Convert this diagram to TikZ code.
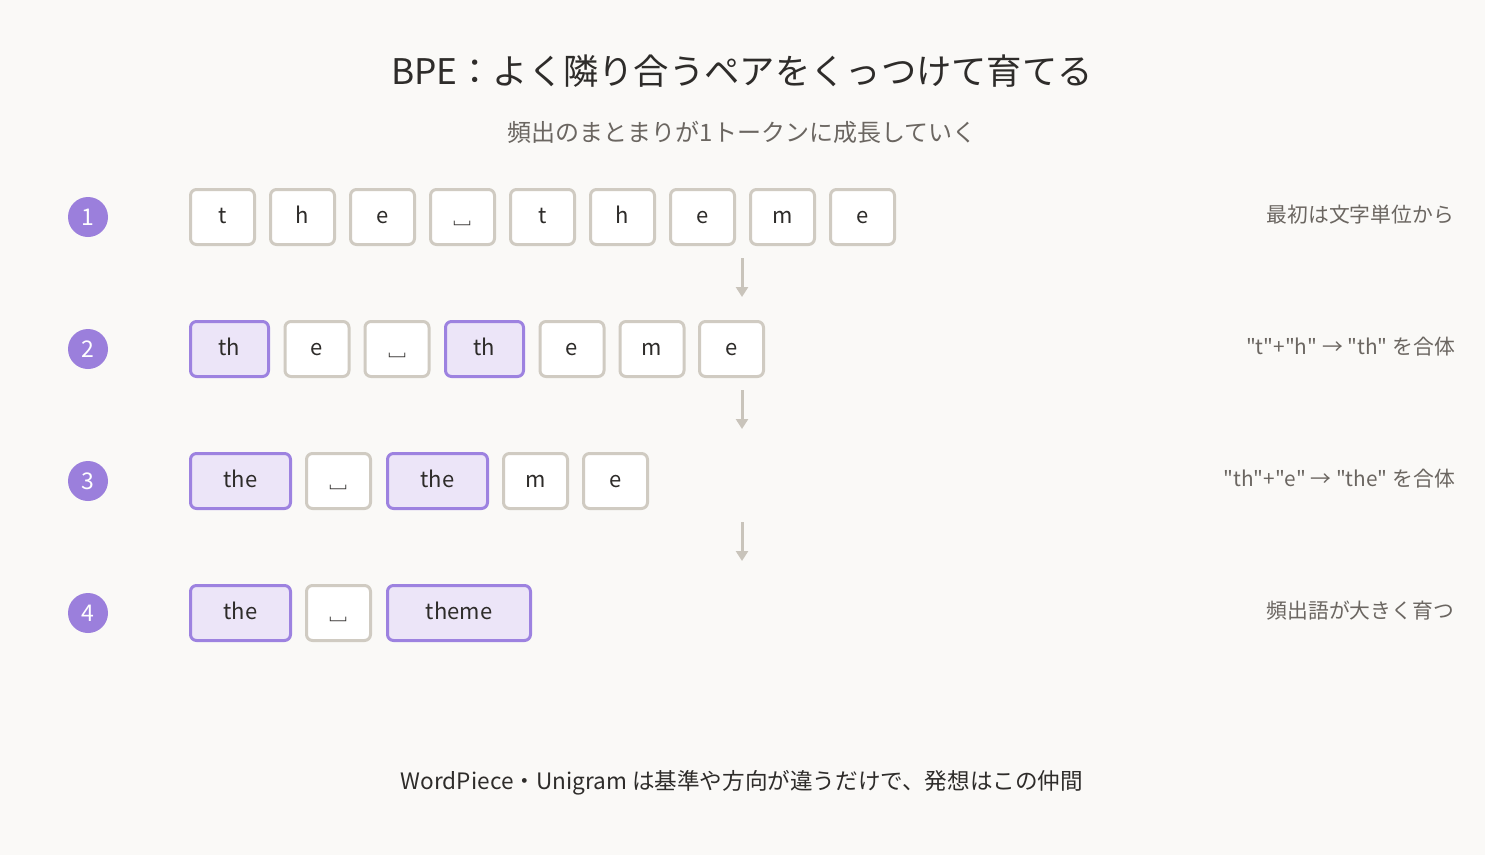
\documentclass[tikz,border=0pt]{standalone}
\usepackage{fontspec}
\setmainfont{Noto Sans CJK JP}
\newfontfamily\qfont{Noto Sans CJK JP}[Ligatures=ResetAll]
\usetikzlibrary{arrows.meta}
\definecolor{bg}{HTML}{FAF9F7}
\definecolor{grayline}{HTML}{D0CBC2}
\definecolor{purpline}{HTML}{9D82E0}
\definecolor{purpfill}{HTML}{ECE5F8}
\definecolor{circfill}{HTML}{9B7FDC}
\definecolor{txt}{HTML}{2E2C2A}
\definecolor{subtxt}{HTML}{6B6661}
\definecolor{arrowc}{HTML}{C9C4BB}
\newcommand{\spc}{␣}
\tikzset{
  tok/.style={draw=grayline, fill=white, line width=3pt, rounded corners=6pt,
    minimum height=55pt, inner sep=0pt, text height=15pt, text depth=3pt,
    text=txt, font=\fontsize{22}{22}\selectfont},
  tokp/.style={tok, draw=purpline, fill=purpfill},
  stepnum/.style={circle, fill=circfill, minimum size=40pt, inner sep=0pt, text=white,
    font=\fontsize{23}{23}\selectfont},
  note/.style={anchor=east, text=subtxt, font=\qfont\fontsize{20.8}{20.8}\selectfont, inner sep=0pt},
  flow/.style={draw=arrowc, line width=3pt, -{Triangle[width=12pt,length=10pt]}}
}
\begin{document}
\begin{tikzpicture}[x=1pt,y=-1pt]
\fill[bg] (0,0) rectangle (1485,855);
\useasboundingbox (0,0) rectangle (1485,855);

\node[text=txt, font=\fontsize{35.3}{35.3}\selectfont] (title) at (742,71) {BPE：よく隣り合うペアをくっつけて育てる};
\node[text=subtxt, font=\fontsize{24}{24}\selectfont] (sub) at (742,132) {頻出のまとまりが1トークンに成長していく};

% step numbers
\node[stepnum] (n1) at (88,217) {1};
\node[stepnum] (n2) at (88,349) {2};
\node[stepnum] (n3) at (88,481) {3};
\node[stepnum] (n4) at (88,613) {4};

% row 1
\foreach \t [count=\i from 0] in {t,h,e,\spc,t,h,e,m,e}
  \node[tok, minimum width=64pt] (r1-\i) at (222.5+80*\i,217) {\t};

% row 2
\node[tokp, minimum width=78pt] (r2-0) at (229.5,349) {th};
\node[tok, minimum width=64pt] (r2-1) at (317,349) {e};
\node[tok, minimum width=64pt] (r2-2) at (397,349) {\spc};
\node[tokp, minimum width=78pt] (r2-3) at (484.5,349) {th};
\node[tok, minimum width=64pt] (r2-4) at (572,349) {e};
\node[tok, minimum width=64pt] (r2-5) at (652,349) {m};
\node[tok, minimum width=64pt] (r2-6) at (731.5,349) {e};

% row 3
\node[tokp, minimum width=100pt] (r3-0) at (240.5,481) {the};
\node[tok, minimum width=64pt] (r3-1) at (338.5,481) {\spc};
\node[tokp, minimum width=100pt] (r3-2) at (437.5,481) {the};
\node[tok, minimum width=64pt] (r3-3) at (535.5,481) {m};
\node[tok, minimum width=64pt] (r3-4) at (615.5,481) {e};

% row 4
\node[tokp, minimum width=100pt] (r4-0) at (240.5,613) {the};
\node[tok, minimum width=64pt] (r4-1) at (338.5,613) {\spc};
\node[tokp, minimum width=143pt] (r4-2) at (459,613) {theme};

% arrows
\coordinate (a1) at (742,258); \coordinate (b1) at (742,297);
\coordinate (a2) at (742,390); \coordinate (b2) at (742,429);
\coordinate (a3) at (742,522); \coordinate (b3) at (742,561);
\draw[flow] (a1) -- (b1);
\draw[flow] (a2) -- (b2);
\draw[flow] (a3) -- (b3);

% notes
\node[note] (c1) at (1454,215) {最初は文字単位から};
\node[note] (c2) at (1455,347) {"t"+"h" → "th" を合体};
\node[note] (c3) at (1455,479) {"th"+"e" → "the" を合体};
\node[note] (c4) at (1454,611) {頻出語が大きく育つ};

\node[text=txt, font=\fontsize{22.6}{22.6}\selectfont] (foot) at (742,783) {WordPiece・Unigram は基準や方向が違うだけで、発想はこの仲間};
\end{tikzpicture}
\end{document}
